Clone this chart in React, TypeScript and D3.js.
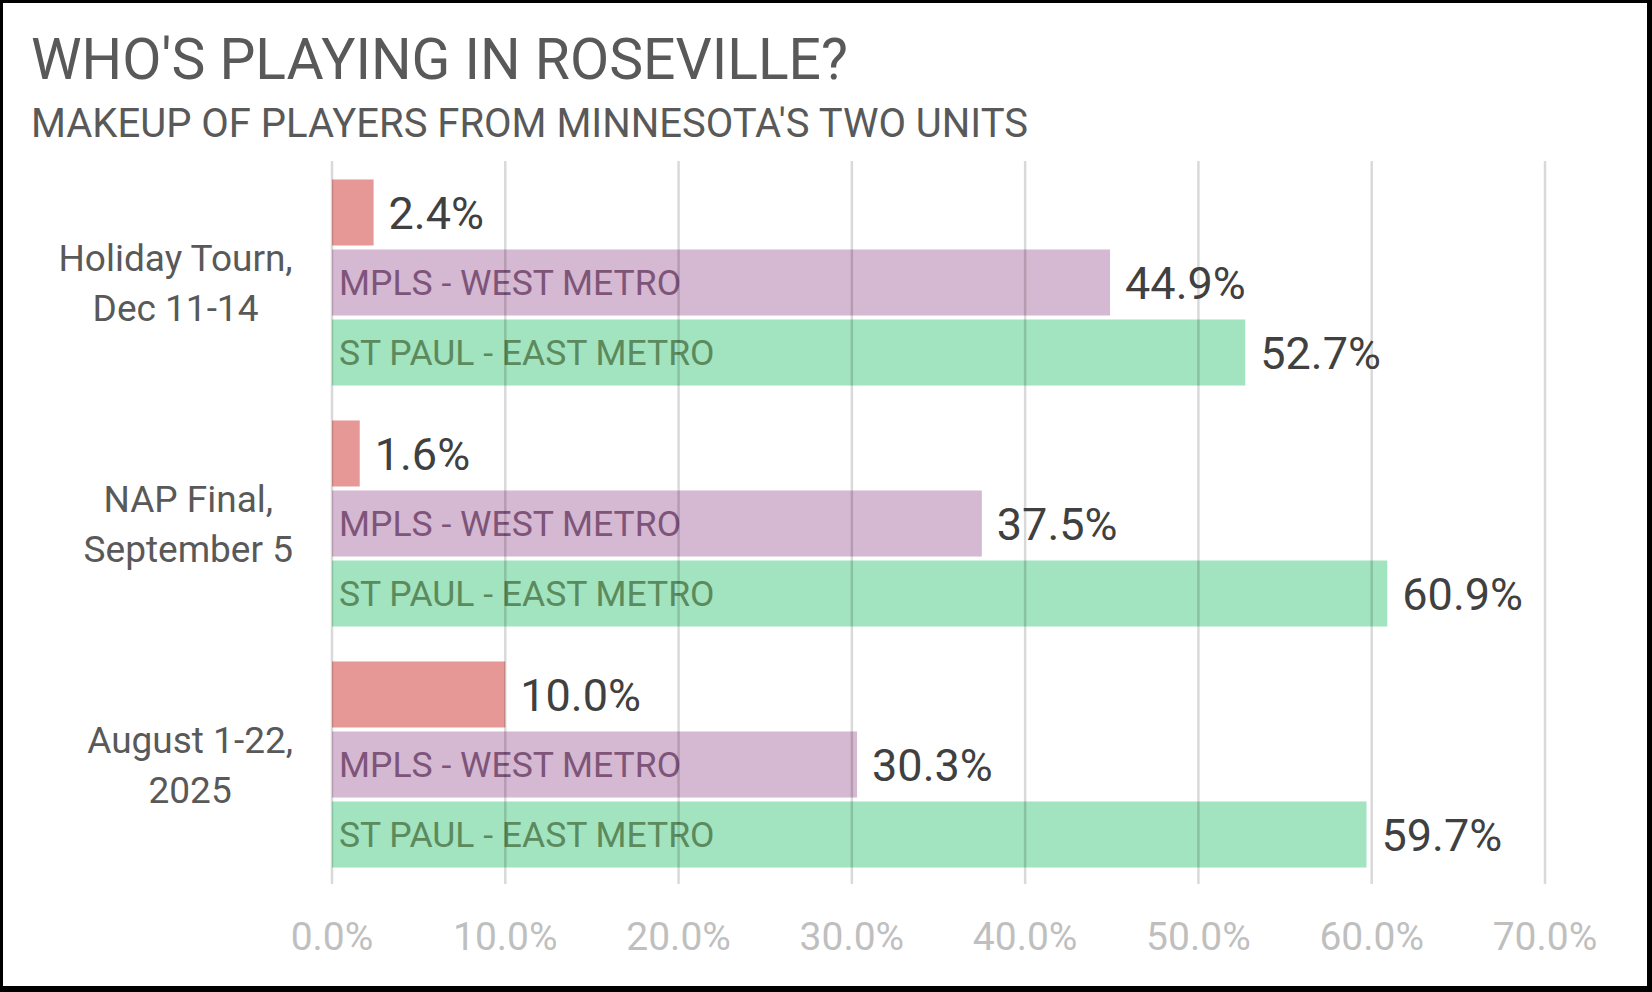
import * as d3 from "d3";

// chart data
const categories = ["Holiday Tourn, Dec 11-14", "NAP Final, September 5", "August 1-22, 2025"]
const categoryLines = [["Holiday Tourn,", "Dec 11-14"], ["NAP Final,", "September 5"], ["August 1-22,", "2025"]]
const seriesNames = ["OTHER", "MPLS - WEST METRO", "ST PAUL - EAST METRO"]
const otherValues = [0.024, 0.016, 0.100]
const mplsValues = [0.449, 0.375, 0.303]
const stPaulValues = [0.527, 0.609, 0.597]
const xTicks = [0, 0.1, 0.2, 0.3, 0.4, 0.5, 0.6, 0.7]

const seriesValues = [otherValues, mplsValues, stPaulValues]
const seriesFill = ["#E59896", "#D5B8D1", "#A2E3C0"]
const seriesText = ["#404040", "#7E5479", "#5B8A5C"]
const showNameInBar = [false, true, true]

const W = 1652
const H = 992
const FONT = "Roboto, 'Open Sans', sans-serif"

const measure = (text: string, size: number): number => {
    const ctx = document.createElement("canvas").getContext("2d")
    if (!ctx) return text.length * size * 0.5
    ctx.font = `${size}px Roboto`
    return ctx.measureText(text).width
}

export default function App() {
    const x = d3.scaleLinear().domain([0, 0.7]).range([332, 1545])
    const y = d3.scaleBand<string>()
        .domain(categories)
        .range([162, 885])
        .paddingInner(0.145)
        .paddingOuter(0.0725)
    const ySeries = d3.scaleBand<string>()
        .domain(seriesNames)
        .range([0, y.bandwidth()])
        .paddingInner(0.057)

    const fmt = d3.format(".1%")

    const catFont = 37
    const catLineHeight = 50
    const catRight = 293
    const valueFont = 45
    const nameFont = 35.5

    return (
        <svg width={W} height={H} style={{ position: "absolute", left: 0, top: 0 }} fontFamily={FONT}>
            <rect x={0} y={0} width={W} height={H} fill="#ffffff" />

            {/* titles */}
            <text x={31} y={79} fontSize={57} fill="#595959">WHO'S PLAYING IN ROSEVILLE?</text>
            <text x={31} y={137} fontSize={40} fill="#595959">MAKEUP OF PLAYERS FROM MINNESOTA'S TWO UNITS</text>

            {/* bars */}
            {categories.map((cat, ci) => (
                <g key={cat} transform={`translate(0, ${y(cat)})`}>
                    {seriesNames.map((s, si) => {
                        const v = seriesValues[si][ci]
                        const by = ySeries(s) || 0
                        const bh = ySeries.bandwidth()
                        return (
                            <g key={s}>
                                <rect x={x(0)} y={by} width={x(v) - x(0)} height={bh} fill={seriesFill[si]} />
                                {showNameInBar[si] && (
                                    <text x={x(0) + 7} y={by + bh / 2 + nameFont * 0.36} fontSize={nameFont} fill={seriesText[si]}>
                                        {s}
                                    </text>
                                )}
                            </g>
                        )
                    })}
                </g>
            ))}

            {/* gridlines, drawn over the bars */}
            {xTicks.map(t => (
                <line key={t} x1={x(t)} x2={x(t)} y1={161} y2={884} stroke="#000000" strokeOpacity={0.15} strokeWidth={2.5} />
            ))}

            {/* value labels */}
            {categories.map((cat, ci) => (
                <g key={cat} transform={`translate(0, ${y(cat)})`}>
                    {seriesNames.map((s, si) => {
                        const v = seriesValues[si][ci]
                        const by = ySeries(s) || 0
                        const bh = ySeries.bandwidth()
                        return (
                            <text key={s} x={x(v) + 15} y={by + bh / 2 + valueFont * 0.36} fontSize={valueFont} fill="#404040">
                                {fmt(v)}
                            </text>
                        )
                    })}
                </g>
            ))}

            {/* category labels */}
            {categories.map((cat, ci) => {
                const lines = categoryLines[ci]
                const maxW = Math.max(...lines.map(l => measure(l, catFont)))
                const cx = catRight - maxW / 2
                const cy = (y(cat) || 0) + y.bandwidth() / 2
                const y0 = cy - ((lines.length - 1) * catLineHeight) / 2 + catFont * 0.36
                return (
                    <text key={cat} textAnchor="middle" fontSize={catFont} fill="#595959">
                        {lines.map((l, li) => (
                            <tspan key={li} x={cx} y={y0 + li * catLineHeight}>{l}</tspan>
                        ))}
                    </text>
                )
            })}

            {/* x axis tick labels */}
            {xTicks.map(t => (
                <text key={t} x={x(t)} y={950} textAnchor="middle" fontSize={39} fill="#BFBFBF">
                    {fmt(t)}
                </text>
            ))}

            {/* frame */}
            <rect x={1.5} y={1.5} width={W - 5} height={H - 6} fill="none" stroke="#000000" strokeWidth={3} />
            <rect x={W - 4} y={0} width={4} height={H} fill="#000000" />
            <rect x={0} y={H - 5} width={W} height={5} fill="#000000" />
        </svg>
    )
}
